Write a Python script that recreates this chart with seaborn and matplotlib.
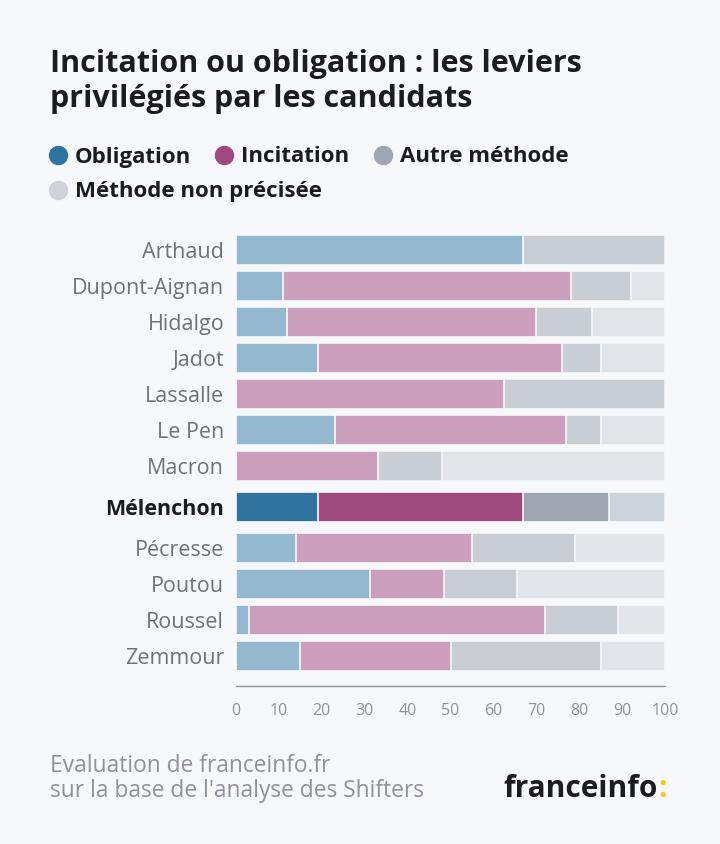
import matplotlib
matplotlib.use("Agg")
import matplotlib.pyplot as plt
from matplotlib.lines import Line2D
import numpy as np
import pandas as pd
import seaborn as sns

# Données (en %)
candidats = ["Arthaud", "Dupont-Aignan", "Hidalgo", "Jadot", "Lassalle", "Le Pen",
             "Macron", "Mélenchon", "Pécresse", "Poutou", "Roussel", "Zemmour"]
obligation = [67, 11, 12, 19, 0, 23, 0, 19, 14, 31.3, 3, 15]
incitation = [0, 67, 58, 57, 62.5, 54, 33, 48, 41, 17.2, 69, 35]
autre = [33, 14, 13, 9, 37.5, 8, 15, 20, 24, 17.1, 17, 35]
non_precisee = [0, 8, 17, 15, 0, 15, 52, 13, 21, 34.4, 11, 15]
mis_en_avant = "Mélenchon"

series = ["Obligation", "Incitation", "Autre méthode", "Méthode non précisée"]
couleurs_fortes = ["#31739f", "#9e4a7e", "#9ea7b1", "#cdd3da"]
couleurs_pales = ["#94b8d0", "#cb9fbb", "#c9ced5", "#e1e5ea"]
x_ticks = list(range(0, 101, 10))

BG = "#f7f8fb"
GRIS_TEXTE = "#6e737a"
GRIS_AXE = "#8c939c"
NOIR = "#1c1c1e"
JAUNE = "#f5c518"

sns.set_theme(style="white")
plt.rcParams["font.family"] = ["Open Sans", "DejaVu Sans"]

df = pd.DataFrame({
    "candidat": candidats,
    "Obligation": obligation,
    "Incitation": incitation,
    "Autre méthode": autre,
    "Méthode non précisée": non_precisee,
})
# petit espace supplémentaire autour du candidat mis en avant
idx = np.arange(len(candidats))
hi = candidats.index(mis_en_avant)
df["pos"] = idx + 0.14 * (idx >= hi) + 0.14 * (idx > hi)

fig = plt.figure(figsize=(7.2, 8.44), dpi=100, facecolor=BG)
ax = fig.add_axes([236 / 720, 1 - 686 / 844, 429 / 720, 456 / 844])
ax.set_facecolor(BG)

# barres empilées : on superpose les cumuls, du plus long au plus court
cumul = df[series].cumsum(axis=1)
for k in reversed(range(len(series))):
    df["cumul"] = cumul[series[k]]
    palette = {c: (couleurs_fortes[k] if c == mis_en_avant else couleurs_pales[k])
               for c in candidats}
    sns.barplot(data=df, x="cumul", y="pos", hue="candidat", palette=palette,
                orient="h", native_scale=True, dodge=False, legend=False,
                width=0.85, saturation=1, edgecolor=BG, linewidth=1.2,
                errorbar=None, ax=ax)

ax.set_xlim(0, 100)
ax.set_ylim(12.11, -0.556)
ax.set_xticks(x_ticks)
ax.set_xticklabels([str(t) for t in x_ticks], color=GRIS_AXE, fontsize=11.5)
ax.tick_params(axis="x", direction="out", length=4, width=1, color=GRIS_AXE, pad=8)
ax.set_yticks(df["pos"])
ax.set_yticklabels(candidats, fontsize=15.5, color=GRIS_TEXTE)
ax.tick_params(axis="y", length=0, pad=8.5)
for lab in ax.get_yticklabels():
    if lab.get_text() == mis_en_avant:
        lab.set_color(NOIR)
        lab.set_fontweight("bold")
ax.set_xlabel("")
ax.set_ylabel("")
for s in ["top", "right", "left"]:
    ax.spines[s].set_visible(False)
ax.spines["bottom"].set_color(GRIS_AXE)
ax.spines["bottom"].set_linewidth(1)

# titre
for y, ligne in [(72, "Incitation ou obligation : les leviers"),
                 (107, "privilégiés par les candidats")]:
    fig.text(50 / 720, 1 - y / 844, ligne, fontsize=22, fontweight="bold",
             color=NOIR, va="baseline", ha="left")

# légende
legende = [(58, 155, 0), (224, 155, 1), (383, 155, 2), (58, 190, 3)]
for x, y, k in legende:
    fig.add_artist(Line2D([x / 720], [1 - y / 844], marker="o", markersize=13,
                          color=couleurs_fortes[k], linestyle="none",
                          transform=fig.transFigure))
    fig.text((x + 17) / 720, 1 - (y + 7.5) / 844, series[k], fontsize=16,
             fontweight="bold", color=NOIR, va="baseline", ha="left")

# source
for y, ligne in [(772, "Evaluation de franceinfo.fr"),
                 (797, "sur la base de l'analyse des Shifters")]:
    fig.text(50 / 720, 1 - y / 844, ligne, fontsize=16.4, color=GRIS_AXE,
             va="baseline", ha="left")
fig.text(503 / 720, 1 - 797 / 844, "franceinfo", fontsize=21.5, fontweight="bold",
         color=NOIR, va="baseline", ha="left")
fig.text(658 / 720, 1 - 797 / 844, ":", fontsize=21.5, fontweight="bold",
         color=JAUNE, va="baseline", ha="left")

fig.savefig("out.png", dpi=100, facecolor=BG)
